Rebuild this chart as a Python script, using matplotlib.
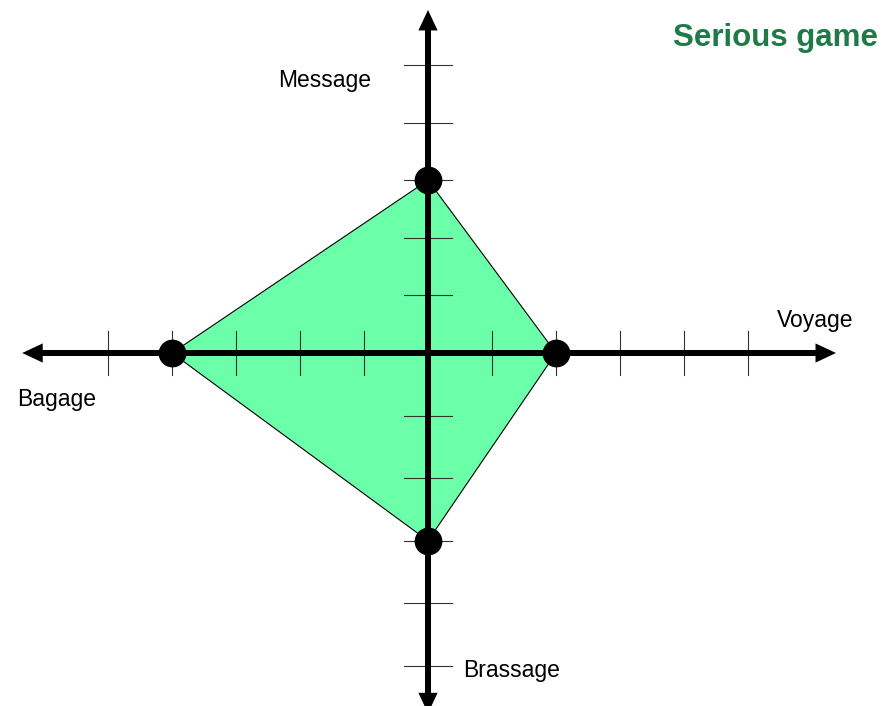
import matplotlib.pyplot as plt
from matplotlib.patches import Polygon, FancyArrow

plt.rcParams['font.family'] = ['Liberation Sans', 'DejaVu Sans']

# Données
axes_names = ["Voyage", "Message", "Bagage", "Brassage"]
values = [2, 3, 4, 3]
n_ticks = 5
title = "Serious game"

# Échelles (1 unité = un cran horizontal)
up_scale = 0.9
down_scale = 0.978

fig = plt.figure(figsize=(8.84, 7.06), dpi=100)
ax = fig.add_axes([0, 0, 1, 1])
ax.set_xlim(-428 / 64, 456 / 64)
ax.set_ylim(-353 / 64, 353 / 64)
ax.axis("off")

# Points du polygone: droite, haut, gauche, bas
v_right, v_up, v_left, v_down = values
px = [v_right, 0, -v_left, 0]
py = [0, v_up * up_scale, 0, -v_down * down_scale]

poly = Polygon(list(zip(px, py)), closed=True, facecolor="#6cffaa",
               edgecolor="black", linewidth=0.8, zorder=1)
ax.add_patch(poly)

# Axes avec flèches
w = 0.094
hw = 0.3
hl = 0.32
arrows = [
    (0, 0, 6.375, 0),
    (0, 0, -6.34, 0),
    (0, 0, 0, 5.36),
    (0, 0, 0, -5.63),
]
for x0, y0, dx, dy in arrows:
    ax.add_patch(FancyArrow(x0, y0, dx, dy, width=w, head_width=hw,
                            head_length=hl, length_includes_head=True,
                            color="black", linewidth=0, zorder=3))

# Graduations
for k in range(1, n_ticks + 1):
    for xs in (k, -k):
        ax.plot([xs, xs], [-0.34, 0.34], color="#333333", lw=0.8, zorder=2)
    for ys in (k * up_scale, -k * down_scale):
        ax.plot([-0.375, 0.375], [ys, ys], color="#333333", lw=0.8, zorder=2)

# Points
ax.plot(px, py, "o", color="black", markersize=19, zorder=4)

# Étiquettes
fs = 16.5
ax.text(6.05, 0.406, axes_names[0], fontsize=fs, ha="center", va="baseline")
ax.text(-1.61, 4.156, axes_names[1], fontsize=fs, ha="center", va="baseline")
ax.text(-5.81, -0.83, axes_names[2], fontsize=fs, ha="center", va="baseline")
ax.text(0.547, -5.06, axes_names[3], fontsize=fs, ha="left", va="baseline")
ax.text(7.03, 4.8, title, fontsize=22.5, fontweight="bold", color="#1e7b47",
        ha="right", va="baseline")

fig.savefig("out.png", dpi=100)
